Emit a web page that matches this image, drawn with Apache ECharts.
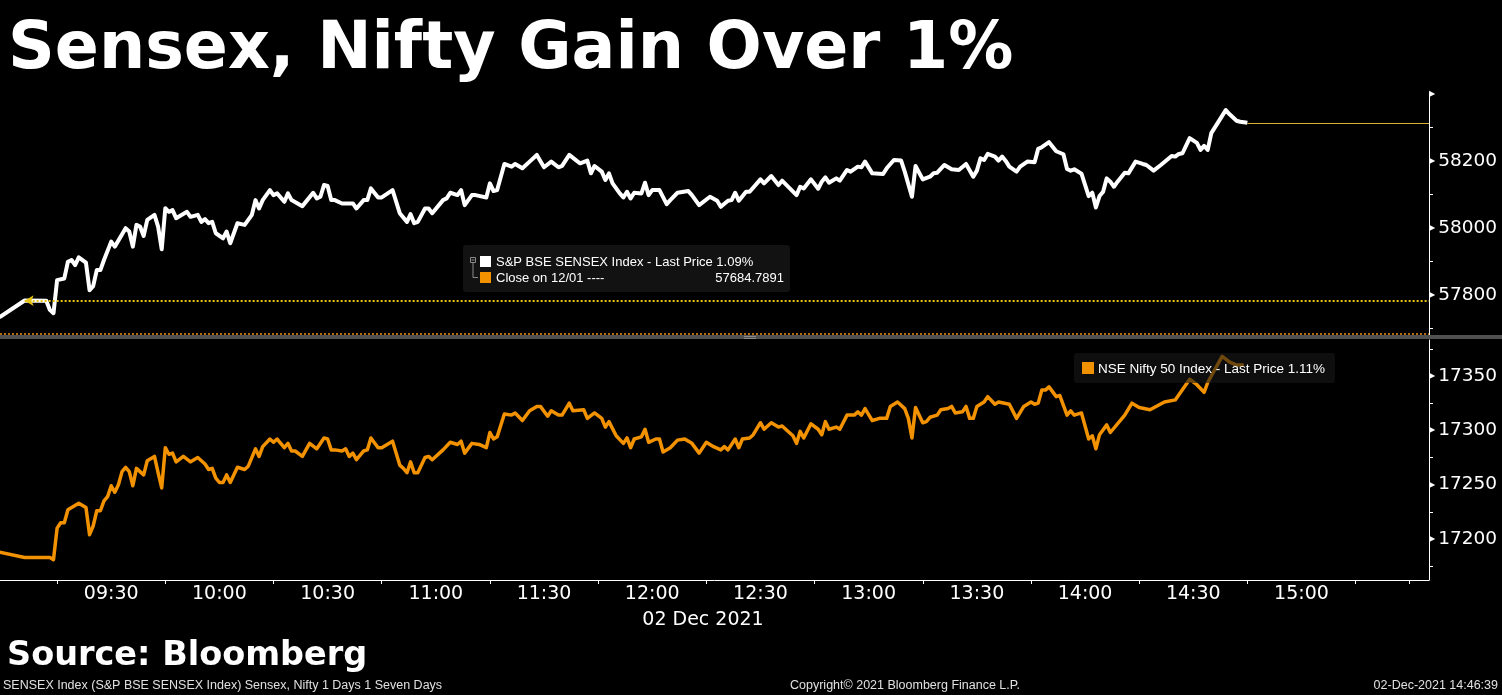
<!DOCTYPE html>
<html><head><meta charset="utf-8">
<script src="https://cdn.jsdelivr.net/npm/echarts@6/dist/echarts.min.js"></script>
<style>html,body{margin:0;padding:0;background:#000;}#c{width:1502px;height:695px;}</style>
</head><body><div id="c"></div>
<script>
// minutes after 09:00 and index levels
const sensexMinute = [-1,6,12,13,14,15,17,18,19,20,21,23,24,25,26,27,28,30,31,34,35,36,37,38,39,40,42,43,44,45,46,47,48,51,52,54,55,56,57,58,59,61,62,63,65,67,69,70,71,72,74,75,76,78,79,80,83,86,87,88,89,90,91,92,94,97,98,100,101,102,104,105,108,110,112,113,114,115,117,118,119,122,123,124,126,127,128,130,131,134,135,136,137,139,141,142,144,146,148,150,152,154,155,157,159,160,162,163,164,166,167,168,169,171,172,173,174,175,177,178,179,180,182,184,185,187,190,191,193,196,198,199,201,202,203,204,206,207,210,211,213,215,216,220,221,222,224,226,227,228,229,231,232,234,235,237,238,239,241,244,245,247,249,250,252,253,255,257,258,259,261,263,265,267,269,270,271,272,273,275,276,277,278,279,281,282,284,286,287,288,290,292,294,295,296,297,299,301,302,303,304,305,306,307,308,309,311,312,314,316,317,319,321,324,325,326,327,329,331,332,333,334,335,339,340,342,343,345];
const sensexValue = [57733,57783,57782,57755,57745,57844,57849,57899,57904,57889,57912,57896,57814,57826,57874,57874,57904,57959,57944,57999,57989,57944,58009,58004,57976,58024,58039,58004,57936,58059,58048,58053,58029,58048,58033,58039,58018,58026,58014,58018,57984,57969,57989,57954,58014,58009,58039,58083,58058,58083,58113,58098,58103,58078,58103,58083,58065,58105,58088,58093,58128,58125,58083,58083,58073,58073,58058,58083,58083,58118,58091,58091,58113,58044,58018,58041,58014,58018,58058,58058,58044,58083,58088,58105,58098,58113,58068,58098,58098,58091,58133,58110,58113,58191,58183,58191,58178,58198,58218,58181,58198,58181,58185,58218,58201,58193,58201,58163,58185,58168,58143,58163,58133,58103,58091,58108,58088,58105,58103,58135,58098,58113,58113,58071,58083,58105,58110,58098,58068,58093,58081,58063,58081,58083,58105,58081,58108,58108,58145,58133,58155,58128,58141,58098,58123,58118,58145,58117,58138,58151,58135,58148,58141,58173,58168,58183,58181,58198,58163,58161,58178,58203,58201,58168,58093,58185,58145,58153,58163,58165,58188,58175,58173,58191,58153,58171,58208,58203,58221,58213,58201,58213,58200,58183,58168,58183,58198,58196,58236,58241,58256,58229,58220,58176,58171,58175,58162,58095,58105,58061,58095,58108,58148,58138,58123,58138,58165,58163,58198,58191,58188,58171,58188,58215,58213,58221,58223,58268,58254,58233,58245,58233,58283,58352,58340,58320,58317,58314];
const niftyMinute = [-1,6,13,14,15,16,17,18,21,23,24,25,26,27,28,29,30,31,32,33,34,35,36,37,39,40,42,43,44,45,46,47,48,50,52,54,56,57,58,59,60,61,62,63,65,67,68,70,71,72,74,75,76,78,79,80,81,83,85,87,89,90,91,92,94,95,96,97,98,100,101,102,104,105,108,110,111,112,113,114,115,117,118,119,122,124,126,127,128,130,132,134,135,136,137,139,141,142,144,146,148,149,151,152,154,155,157,158,161,162,164,166,167,168,170,172,173,174,175,177,178,179,181,182,183,185,187,189,191,193,195,197,199,200,201,203,204,205,207,208,210,211,213,215,216,219,220,221,222,224,226,227,228,229,231,232,234,236,237,238,239,241,243,245,246,248,250,251,252,253,255,256,257,259,260,262,263,264,266,267,268,269,270,272,273,275,276,279,281,283,285,286,287,288,289,290,292,293,295,296,297,299,301,302,303,304,306,307,311,313,315,318,322,325,329,331,333,334,338,340,342,344];
const niftyValue = [17188,17183,17183,17181,17210,17215,17215,17227,17233,17229,17204,17212,17226,17226,17235,17239,17249,17243,17250,17262,17266,17262,17249,17265,17259,17272,17276,17261,17247,17284,17278,17279,17271,17276,17271,17275,17269,17264,17265,17256,17252,17252,17259,17252,17266,17264,17267,17283,17276,17285,17292,17289,17292,17284,17288,17281,17281,17276,17288,17283,17293,17292,17282,17282,17281,17283,17276,17279,17273,17281,17282,17293,17284,17284,17290,17268,17265,17261,17271,17261,17261,17275,17276,17273,17282,17289,17287,17290,17279,17288,17287,17284,17298,17292,17294,17315,17314,17316,17309,17318,17322,17322,17313,17318,17314,17314,17325,17318,17319,17311,17316,17311,17303,17308,17295,17288,17293,17284,17292,17294,17301,17289,17292,17292,17280,17284,17291,17292,17288,17279,17289,17285,17282,17285,17282,17292,17284,17292,17293,17296,17307,17301,17307,17303,17304,17295,17288,17299,17293,17306,17301,17296,17308,17301,17303,17301,17314,17314,17317,17314,17320,17309,17311,17311,17322,17326,17320,17311,17293,17321,17307,17308,17312,17314,17319,17320,17322,17316,17317,17322,17311,17311,17322,17326,17331,17324,17326,17324,17311,17322,17326,17324,17325,17337,17337,17340,17331,17332,17314,17318,17314,17316,17292,17295,17283,17296,17305,17298,17314,17325,17321,17319,17326,17328,17347,17342,17335,17344,17368,17363,17360,17360];

const timeLabels = ['09:30','10:00','10:30','11:00','11:30','12:00','12:30','13:00','13:30','14:00','14:30','15:00'];
const timeTicks = ['09:15','09:45','10:15','10:45','11:15','11:45','12:15','12:45','13:15','13:45','14:15','14:45','15:15','15:30'];
const sensexTickLabels = [57800, 58000, 58200];
const sensexMinorTicks = [57700, 57900, 58100, 58300];
const niftyTickLabels = [17200, 17250, 17300, 17350];
const niftyMinorTicks = [17175, 17225, 17275, 17325, 17375];

const sensexPrevClose = 57684.7891;
const sensexPreOpen = 57782.5;
const sensexChangePct = 1.09;
const niftyChangePct = 1.11;
const closeDate = '12/01';
const sessionDate = '02 Dec 2021';

const titleText = 'Sensex, Nifty Gain Over 1%';
const sourceText = 'Source: Bloomberg';
const footLeft = 'SENSEX Index (S&P BSE SENSEX Index) Sensex, Nifty 1 Days 1 Seven Days';
const footMid = 'Copyright\u00A9 2021 Bloomberg Finance L.P.';
const footRight = '02-Dec-2021 14:46:39';

const toMin = s => { const p = s.split(':'); return +p[0] * 60 + +p[1]; };
const fmtMin = v => { const h = Math.floor(v / 60), m = Math.round(v % 60); return (h < 10 ? '0' : '') + h + ':' + (m < 10 ? '0' : '') + m; };
const base = toMin('09:00');
const X_MIN = 539.17, X_MAX = 935.35;

const sensexData = sensexMinute.map((m, i) => [base + m, sensexValue[i]]);
const niftyData = niftyMinute.map((m, i) => [base + m, niftyValue[i]]);
const sensexLast = sensexPrevClose * (1 + sensexChangePct / 100);
const lastT = base + sensexMinute[sensexMinute.length - 1];

const ORANGE = '#f39200';
const AX = 'DejaVu Sans';
const LG = 'Liberation Sans';

function yLabel(maxV) {
  return {
    show: true, margin: 0, showMaxLabel: true, showMinLabel: true,
    formatter: v => v === maxV ? '{t|\u25B6}' : '{t|\u25B6}{v|' + v + '}',
    rich: {
      t: { fontSize: 8, color: '#fff', fontFamily: AX, verticalAlign: 'middle', padding: [0, 3, 0, 0] },
      v: { fontSize: 18.5, color: '#fff', fontFamily: AX, verticalAlign: 'middle' }
    }
  };
}

const chart = echarts.init(document.getElementById('c'), null, { renderer: 'canvas' });
chart.setOption({
  animation: false,
  backgroundColor: '#000',
  grid: [
    { left: 0, right: 73, top: 94, height: 241 },
    { left: 0, right: 73, top: 340, height: 240 }
  ],
  xAxis: [
    { gridIndex: 0, type: 'value', min: X_MIN, max: X_MAX, show: false, splitLine: { show: false } },
    { gridIndex: 1, type: 'value', min: X_MIN, max: X_MAX,
      axisLine: { show: true, lineStyle: { color: '#fff', width: 1 } },
      axisTick: { show: true, customValues: timeTicks.map(toMin), length: 4, lineStyle: { color: '#fff' } },
      axisLabel: { show: true, customValues: timeLabels.map(toMin), formatter: v => fmtMin(v), color: '#fff', fontSize: 19, fontFamily: AX, margin: 5 },
      splitLine: { show: false } }
  ],
  yAxis: [
    { gridIndex: 0, type: 'value', position: 'right', min: 57680, max: 58400, scale: true,
      axisLine: { show: true, lineStyle: { color: '#fff', width: 1 } },
      axisTick: { show: true, customValues: sensexMinorTicks, length: 4, lineStyle: { color: '#fff' } },
      axisLabel: Object.assign(yLabel(58400), { customValues: sensexTickLabels.concat([58400]) }),
      splitLine: { show: false } },
    { gridIndex: 1, type: 'value', position: 'right', min: 17162.3, max: 17383.1, scale: true,
      axisLine: { show: true, lineStyle: { color: '#fff', width: 1 } },
      axisTick: { show: true, customValues: niftyMinorTicks, length: 4, lineStyle: { color: '#fff' } },
      axisLabel: Object.assign(yLabel(null), { customValues: niftyTickLabels }),
      splitLine: { show: false } }
  ],
  series: [
    { type: 'line', name: 'S&P BSE SENSEX Index', xAxisIndex: 0, yAxisIndex: 0, data: sensexData,
      showSymbol: false, symbol: 'none', lineStyle: { color: '#fff', width: 4, join: 'round' }, z: 3,
      markLine: { silent: true, animation: false, label: { show: false },
        data: [
          [{ coord: [X_MIN, sensexPrevClose], symbol: 'none', lineStyle: { color: '#b06a12', type: 'dotted', width: 2 } },
           { coord: [X_MAX, sensexPrevClose], symbol: 'none' }],
          [{ coord: [base + 6, sensexPreOpen], symbol: 'arrow', symbolSize: [8, 9], lineStyle: { color: '#e6c414', type: 'dotted', width: 2 }, itemStyle: { color: '#e6c414' } },
           { coord: [X_MAX, sensexPreOpen], symbol: 'none' }],
          [{ coord: [lastT, sensexLast], symbol: 'none', lineStyle: { color: '#d9b030', type: 'solid', width: 1 } },
           { coord: [X_MAX, sensexLast], symbol: 'none' }]
        ] } },
    { type: 'line', name: 'NSE Nifty 50 Index', xAxisIndex: 1, yAxisIndex: 1, data: niftyData,
      showSymbol: false, symbol: 'none', lineStyle: { color: ORANGE, width: 3.5, join: 'round' }, z: 3 }
  ],
  graphic: [
    { type: 'text', x: 8, y: 51, z: 100, style: { text: titleText, fill: '#fff', font: 'bold 65px "DejaVu Sans"', verticalAlign: 'middle' } },
    { type: 'rect', z: 50, shape: { x: 0, y: 335, width: 1502, height: 4 }, style: { fill: '#505050' } },
    { type: 'rect', z: 51, shape: { x: 744, y: 336, width: 12, height: 1 }, style: { fill: '#8a8a8a' } },
    { type: 'rect', z: 51, shape: { x: 744, y: 338, width: 12, height: 1 }, style: { fill: '#8a8a8a' } },
    // legend 1
    { type: 'rect', z: 100, shape: { x: 463, y: 245, width: 327, height: 47, r: 3 }, style: { fill: '#121212' } },
    { type: 'rect', z: 101, shape: { x: 470.5, y: 257.5, width: 5, height: 5 }, style: { fill: 'none', stroke: '#8a8a8a', lineWidth: 1 } },
    { type: 'line', z: 101, shape: { x1: 471.5, y1: 260, x2: 474.5, y2: 260 }, style: { stroke: '#8a8a8a', lineWidth: 1 } },
    { type: 'polyline', z: 101, shape: { points: [[473, 262.5], [473, 277.5], [478, 277.5]] }, style: { fill: 'none', stroke: '#8a8a8a', lineWidth: 1 } },
    { type: 'rect', z: 101, shape: { x: 480, y: 256, width: 11, height: 11 }, style: { fill: '#fff' } },
    { type: 'rect', z: 101, shape: { x: 480, y: 272, width: 11, height: 11 }, style: { fill: ORANGE } },
    { type: 'text', z: 101, x: 496, y: 262, style: { text: 'S&P BSE SENSEX Index - Last Price ' + sensexChangePct.toFixed(2) + '%', fill: '#fff', font: '13px "' + LG + '"', verticalAlign: 'middle' } },
    { type: 'text', z: 101, x: 496, y: 278, style: { text: 'Close on ' + closeDate + ' ----', fill: '#fff', font: '13px "' + LG + '"', verticalAlign: 'middle' } },
    { type: 'text', z: 101, x: 784, y: 278, style: { text: sensexPrevClose.toFixed(4), fill: '#fff', font: '13px "' + LG + '"', verticalAlign: 'middle', align: 'right' } },
    // legend 2
    { type: 'rect', z: 100, shape: { x: 1074, y: 353, width: 261, height: 30, r: 3 }, style: { fill: 'rgba(24,24,24,0.6)' } },
    { type: 'rect', z: 101, shape: { x: 1082, y: 362, width: 12, height: 12 }, style: { fill: ORANGE } },
    { type: 'text', z: 101, x: 1098, y: 369, style: { text: 'NSE Nifty 50 Index - Last Price ' + niftyChangePct.toFixed(2) + '%', fill: '#fff', font: '13.5px "' + LG + '"', verticalAlign: 'middle' } },
    // axis date + footer
    { type: 'text', z: 100, x: 703, y: 620, style: { text: sessionDate, fill: '#fff', font: '19px "DejaVu Sans"', align: 'center', verticalAlign: 'middle' } },
    { type: 'text', z: 100, x: 7, y: 656, style: { text: sourceText, fill: '#fff', font: 'bold 33.5px "DejaVu Sans"', verticalAlign: 'middle' } },
    { type: 'text', z: 100, x: 3, y: 686, style: { text: footLeft, fill: '#e0e0e0', font: '12.5px "' + LG + '"', verticalAlign: 'middle' } },
    { type: 'text', z: 100, x: 905, y: 686, style: { text: footMid, fill: '#e0e0e0', font: '12.5px "' + LG + '"', align: 'center', verticalAlign: 'middle' } },
    { type: 'text', z: 100, x: 1498, y: 686, style: { text: footRight, fill: '#e0e0e0', font: '12.5px "' + LG + '"', align: 'right', verticalAlign: 'middle' } }
  ]
});
</script>
</body></html>
